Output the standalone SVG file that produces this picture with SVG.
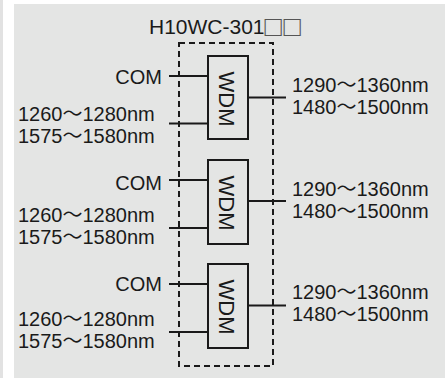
<svg xmlns="http://www.w3.org/2000/svg" width="445" height="378" viewBox="0 0 445 378">
<style>
.t{font-family:"Liberation Sans","Noto Sans CJK JP",sans-serif;font-size:20px;fill:#1a1a1a}
.e{text-anchor:end}
.w{text-anchor:middle;font-size:22px}
.ti{font-size:21px}
.sq{font-size:29px;fill:#555;letter-spacing:1.5px}
.box{fill:none;stroke:#1a1a1a;stroke-width:2}
.ln{stroke:#1a1a1a;stroke-width:2;fill:none}
.dash{fill:none;stroke:#1a1a1a;stroke-width:2;stroke-dasharray:6 4}
</style>
<rect x="0" y="0" width="445" height="378" fill="#ffffff"/>
<rect x="0" y="0" width="3" height="378" fill="#e2e2e2"/>
<rect x="14" y="4" width="431" height="374" fill="#e4e5e4"/>
<text class="t ti" x="149" y="34">H10WC-301<tspan class="sq" dx="0" dy="2">□□</tspan></text>
<rect class="dash" x="179" y="43" width="94" height="323"/>
<g id="connectors">
<line class="ln" x1="169" y1="76" x2="208" y2="76"/>
<line class="ln" x1="169" y1="123.5" x2="208" y2="123.5"/>
<line class="ln" x1="248" y1="97.5" x2="286" y2="97.5"/>
<line class="ln" x1="169" y1="180" x2="208" y2="180"/>
<line class="ln" x1="169" y1="228" x2="208" y2="228"/>
<line class="ln" x1="248" y1="201" x2="286" y2="201"/>
<line class="ln" x1="169" y1="284" x2="208" y2="284"/>
<line class="ln" x1="169" y1="332" x2="208" y2="332"/>
<line class="ln" x1="248" y1="305.5" x2="286" y2="305.5"/>
</g>
<g id="wdm1">
<rect class="box" x="208" y="56" width="40" height="83"/>
<text class="t w" transform="translate(219,99) rotate(90)">WDM</text>
</g>
<g id="wdm2">
<rect class="box" x="208" y="160" width="40" height="84"/>
<text class="t w" transform="translate(219,203) rotate(90)">WDM</text>
</g>
<g id="wdm3">
<rect class="box" x="208" y="264" width="40" height="84"/>
<text class="t w" transform="translate(219,307) rotate(90)">WDM</text>
</g>
<g id="labels1">
<text class="t e" x="162" y="84">COM</text>
<text class="t" x="18" y="121">1260～1280nm</text>
<text class="t" x="18" y="143">1575～1580nm</text>
<text class="t" x="292" y="92">1290～1360nm</text>
<text class="t" x="292" y="113.5">1480～1500nm</text>
</g>
<g id="labels2">
<text class="t e" x="162" y="190">COM</text>
<text class="t" x="18" y="222">1260～1280nm</text>
<text class="t" x="18" y="243.5">1575～1580nm</text>
<text class="t" x="292" y="195.5">1290～1360nm</text>
<text class="t" x="292" y="218">1480～1500nm</text>
</g>
<g id="labels3">
<text class="t e" x="162" y="291">COM</text>
<text class="t" x="18" y="326">1260～1280nm</text>
<text class="t" x="18" y="348">1575～1580nm</text>
<text class="t" x="292" y="298.5">1290～1360nm</text>
<text class="t" x="292" y="321">1480～1500nm</text>
</g>
</svg>
